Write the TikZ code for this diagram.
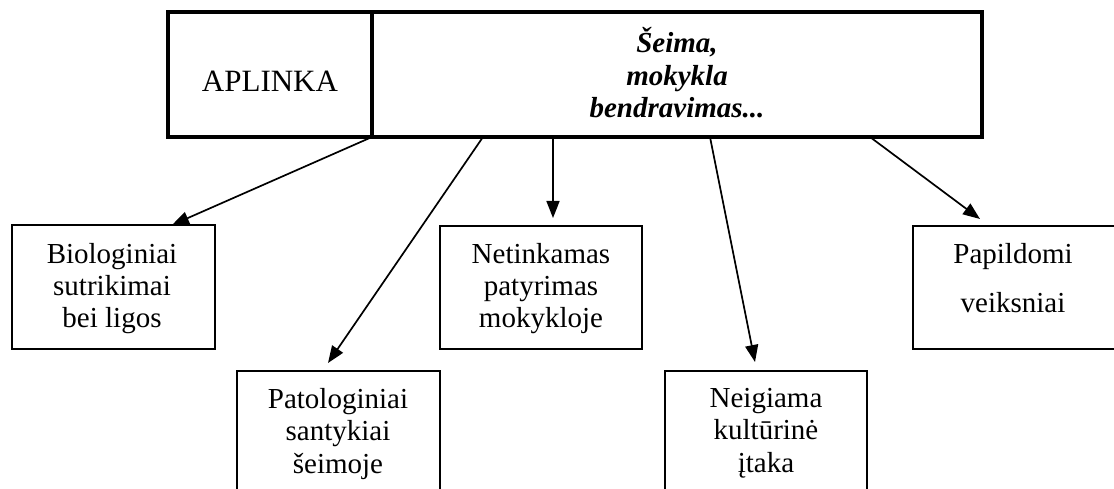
\documentclass[tikz,border=0pt]{standalone}
\usepackage{fontspec}
\setmainfont{Liberation Serif}
\usetikzlibrary{arrows.meta}
\begin{document}
\begin{tikzpicture}[x=1pt,y=-1pt,
  topbox/.style={draw, line width=3.2pt, minimum height=125pt, inner sep=0pt, outer sep=0pt},
  fbox/.style={draw, line width=2.2pt, inner sep=0pt, outer sep=0pt},
  lbl/.style={anchor=base, inner sep=0pt, font=\fontsize{29}{32.5}\selectfont},
  conn/.style={-{Triangle[length=17pt,width=13pt]}, line width=1.7pt}
]
\useasboundingbox (0,0) rectangle (1114,489);
\clip (0,0) rectangle (1114,489);

% top boxes
\node[topbox, minimum width=204pt] (aplinka) at (270,74.5) {};
\node[topbox, minimum width=610pt] (seima) at (677,74.5) {};
\node[lbl, font=\fontsize{31}{33}\selectfont] (aplinkat) at (270,92) {APLINKA};
\node[lbl, font=\fontsize{29}{32.5}\selectfont\bfseries\itshape] (seimat) at (677,53)
  {\begin{tabular}[t]{@{}c@{}}Šeima,\\mokykla\\bendravimas...\end{tabular}};

% lower boxes
\node[fbox, minimum width=203pt, minimum height=124pt] (bio) at (113.5,287) {};
\node[fbox, minimum width=202pt, minimum height=123pt] (net) at (541,287.5) {};
\node[fbox, minimum width=207pt, minimum height=123pt] (pap) at (1016.5,287.5) {};
\node[fbox, minimum width=203pt, minimum height=140pt] (pat) at (338.5,441) {};
\node[fbox, minimum width=202pt, minimum height=140pt] (neg) at (766,441) {};

\node[lbl] (biot) at (112,263) {\begin{tabular}[t]{@{}c@{}}Biologiniai\\sutrikimai\\bei ligos\end{tabular}};
\node[lbl] (nett) at (541,263) {\begin{tabular}[t]{@{}c@{}}Netinkamas\\patyrimas\\mokykloje\end{tabular}};
\node[lbl] (papt) at (1013,263) {\begin{tabular}[t]{@{}c@{}}Papildomi\\[17.5pt]veiksniai\end{tabular}};
\node[lbl] (patt) at (338,408) {\begin{tabular}[t]{@{}c@{}}Patologiniai\\santykiai\\šeimoje\end{tabular}};
\node[lbl] (negt) at (766,407) {\begin{tabular}[t]{@{}c@{}}Neigiama\\kultūrinė\\įtaka\end{tabular}};

% connectors
\draw[conn] (seima.south west) -- ([xshift=58.5pt]bio.north);
\draw[conn] ([xshift=111pt]seima.south west) -- ([xshift=-10.5pt,yshift=8pt]pat.north);
\draw[conn] ([xshift=181pt]seima.south west) -- ([xshift=12pt,yshift=8pt]net.north);
\draw[conn] ([xshift=338pt]seima.south west) -- ([xshift=-11pt,yshift=9pt]neg.north);
\draw[conn] ([xshift=498pt]seima.south west) -- ([xshift=67pt,yshift=7pt]pap.north west);
\end{tikzpicture}
\end{document}
